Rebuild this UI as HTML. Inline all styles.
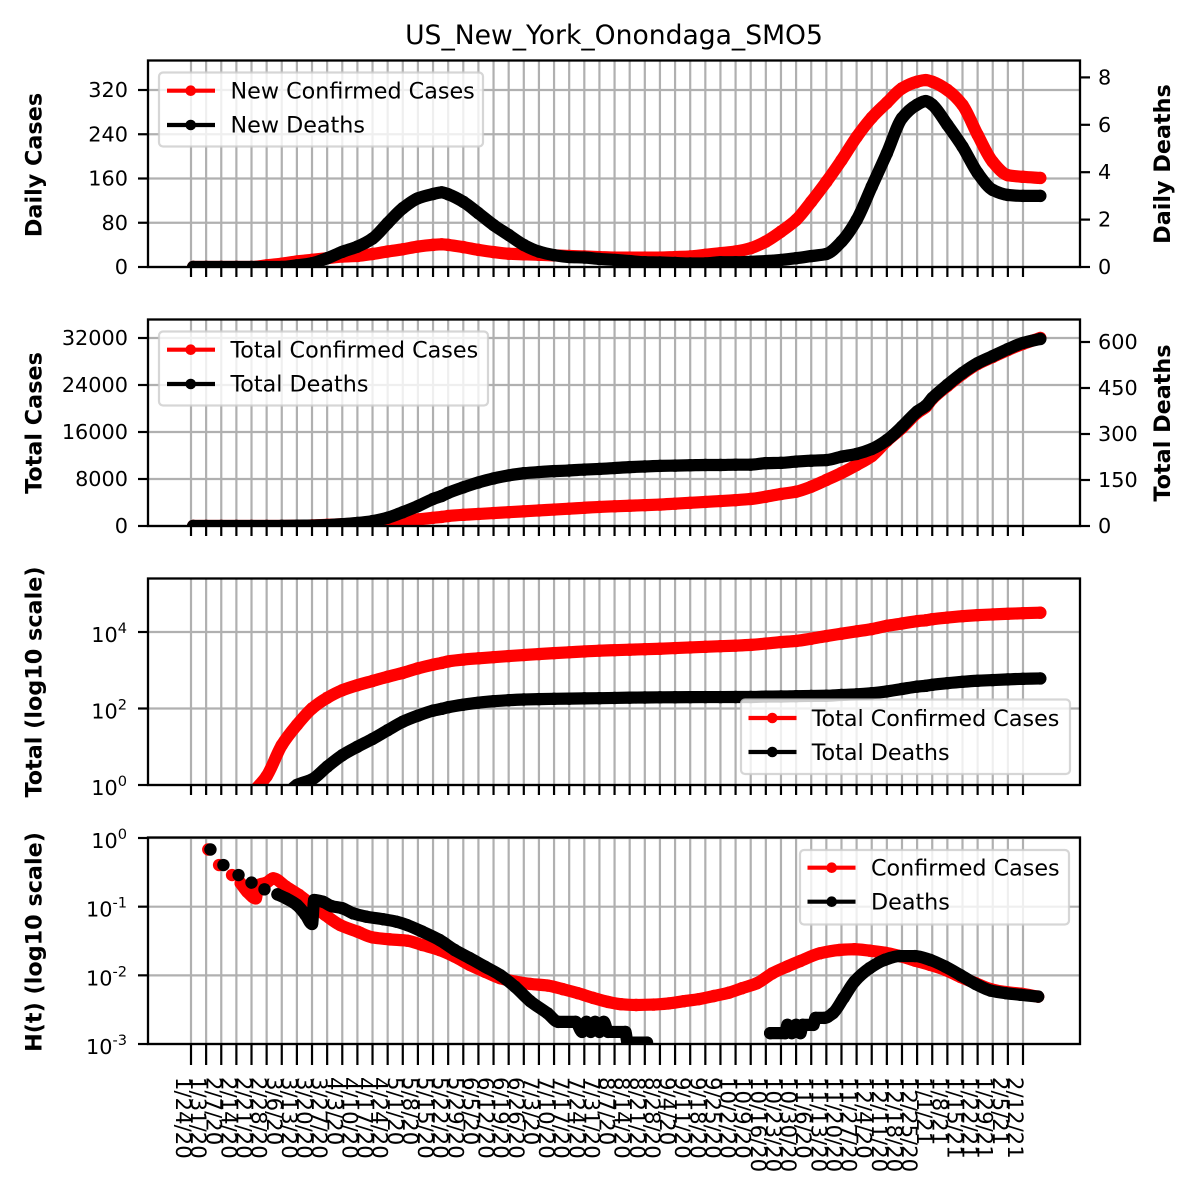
<!DOCTYPE html>
<html>
<head>
<meta charset="utf-8">
<title>US_New_York_Onondaga_SMO5</title>
<style>
html,body{margin:0;padding:0;background:#fff;}
svg{display:block;}
text{font-family:"DejaVu Sans","Liberation Sans",sans-serif;fill:#000;}
</style>
</head>
<body>
<svg id="chart" width="1200" height="1200" viewBox="0 0 1200 1200" xmlns="http://www.w3.org/2000/svg">
<defs>
<clipPath id="clip1"><rect x="148" y="60.5" width="932" height="206.5"/></clipPath>
<clipPath id="clip2"><rect x="148" y="319.5" width="932" height="206.5"/></clipPath>
<clipPath id="clip3"><rect x="148" y="578.5" width="932" height="206.5"/></clipPath>
<clipPath id="clip4"><rect x="148" y="837.5" width="932" height="206.5"/></clipPath>
</defs>
<rect x="0" y="0" width="1200" height="1200" fill="#fff"/>
<text x="614" y="44" text-anchor="middle" font-size="26.6">US_New_York_Onondaga_SMO5</text>
<g id="grid"></g>
<g id="marks"></g>
<g id="ticks"></g>
<g fill="none" stroke="#000" stroke-width="2.3">
<rect x="148" y="60.5" width="932" height="206.5"/>
<rect x="148" y="319.5" width="932" height="206.5"/>
<rect x="148" y="578.5" width="932" height="206.5"/>
<rect x="148" y="837.5" width="932" height="206.5"/>
</g>
<g font-size="22.3" font-weight="bold" text-anchor="middle">
<text transform="translate(41.7,165) rotate(-90)">Daily Cases</text>
<text transform="translate(41.7,423) rotate(-90)">Total Cases</text>
<text transform="translate(41.7,682) rotate(-90)">Total (log10 scale)</text>
<text transform="translate(41.7,942) rotate(-90)">H(t) (log10 scale)</text>
<text transform="translate(1170,164) rotate(-90)">Daily Deaths</text>
<text transform="translate(1170,423) rotate(-90)">Total Deaths</text>
</g>
<g font-size="22.25">
<rect x="159" y="72.5" width="324" height="74" rx="4" fill="#fff" fill-opacity="0.8" stroke="#ccc" stroke-opacity="0.8" stroke-width="2.2"/>
<line x1="167" y1="90.7" x2="215" y2="90.7" stroke="#f00" stroke-width="4.2"/>
<circle cx="190.7" cy="90.7" r="5.3" fill="#f00"/>
<text x="230.5" y="98.5">New Confirmed Cases</text>
<line x1="167" y1="125" x2="215" y2="125" stroke="#000" stroke-width="4.2"/>
<circle cx="190.7" cy="125" r="5.3" fill="#000"/>
<text x="230.5" y="132.5">New Deaths</text>
</g>
<g font-size="22.25">
<rect x="159" y="331.5" width="329" height="74" rx="4" fill="#fff" fill-opacity="0.8" stroke="#ccc" stroke-opacity="0.8" stroke-width="2.2"/>
<line x1="167" y1="349.7" x2="215" y2="349.7" stroke="#f00" stroke-width="4.2"/>
<circle cx="190.7" cy="349.7" r="5.3" fill="#f00"/>
<text x="230.5" y="357.5">Total Confirmed Cases</text>
<line x1="167" y1="384" x2="215" y2="384" stroke="#000" stroke-width="4.2"/>
<circle cx="190.7" cy="384" r="5.3" fill="#000"/>
<text x="230.5" y="391.5">Total Deaths</text>
</g>
<g font-size="22.25">
<rect x="741" y="699.5" width="329" height="74.5" rx="4" fill="#fff" fill-opacity="0.8" stroke="#ccc" stroke-opacity="0.8" stroke-width="2.2"/>
<line x1="748.5" y1="718" x2="796.5" y2="718" stroke="#f00" stroke-width="4.2"/>
<circle cx="772.3" cy="718" r="5.3" fill="#f00"/>
<text x="811.7" y="726">Total Confirmed Cases</text>
<line x1="748.5" y1="752" x2="796.5" y2="752" stroke="#000" stroke-width="4.2"/>
<circle cx="772.3" cy="752" r="5.3" fill="#000"/>
<text x="811.7" y="760">Total Deaths</text>
</g>
<g font-size="22.25">
<rect x="800" y="850" width="269" height="74.5" rx="4" fill="#fff" fill-opacity="0.8" stroke="#ccc" stroke-opacity="0.8" stroke-width="2.2"/>
<line x1="807.5" y1="867.7" x2="855.5" y2="867.7" stroke="#f00" stroke-width="4.2"/>
<circle cx="831.7" cy="867.7" r="5.3" fill="#f00"/>
<text x="871" y="875.5">Confirmed Cases</text>
<line x1="807.5" y1="901.7" x2="855.5" y2="901.7" stroke="#000" stroke-width="4.2"/>
<circle cx="831.7" cy="901.7" r="5.3" fill="#000"/>
<text x="871" y="909.5">Deaths</text>
</g>
</svg>
<script>
// Weekly tick labels (days since 1/24/20 = index * 7)
var xTickLabels = ["1/24/20","1/31/20","2/7/20","2/14/20","2/21/20","2/28/20","3/6/20","3/13/20","3/20/20","3/27/20","4/3/20","4/10/20","4/17/20","4/24/20","5/1/20","5/8/20","5/15/20","5/22/20","5/29/20","6/5/20","6/12/20","6/19/20","6/26/20","7/3/20","7/10/20","7/17/20","7/24/20","7/31/20","8/7/20","8/14/20","8/21/20","8/28/20","9/4/20","9/11/20","9/18/20","9/25/20","10/2/20","10/9/20","10/16/20","10/23/20","10/30/20","11/6/20","11/13/20","11/20/20","11/27/20","12/4/20","12/11/20","12/18/20","12/25/20","1/1/21","1/8/21","1/15/21","1/22/21","1/29/21","2/5/21","2/12/21"];
var tickDayStep = 7;

// Sampled days since 1/24/20 for the daily and total series
var sampleDays = [1,7,14,21,28,35,42,49,56,63,70,77,84,91,98,105,112,116,119,126,133,140,147,154,161,168,175,182,189,196,203,210,217,224,231,238,245,252,259,266,273,280,287,294,301,308,315,322,329,336,340,343,350,357,364,371,378,385,393];

var newCases = [0,0,0,0,0,3,6,10,13,16,19,20,23.5,28,32,37,40,41,40,36,31,27,24,23,22,21,20,19,18,17,17,17,17,18,19,22,25,28,34,46,64,85,118,154,193,235,270,297,323,335,338,335,320,293,239,190,166,163,161];
var newDeaths = [0,0,0,0,0,0,0,0.07,0.16,0.37,0.64,0.86,1.2,1.85,2.48,2.9,3.08,3.15,3.07,2.75,2.27,1.77,1.35,0.93,0.65,0.5,0.42,0.4,0.34,0.3,0.25,0.2,0.19,0.17,0.15,0.15,0.2,0.2,0.22,0.25,0.3,0.37,0.46,0.55,1.07,1.98,3.39,4.8,6.28,6.85,7.0,6.85,6.0,5.08,3.97,3.25,3.04,3.0,3.0];
var totalCases = [0,0,0,0,0.6,1.7,11,37,100,190,300,407,525,676,851,1120,1400,1550,1700,1900,2050,2200,2350,2500,2650,2800,2950,3100,3250,3350,3450,3550,3650,3800,3950,4100,4250,4400,4600,4990,5450,5840,6690,7830,9020,10380,11900,14470,16680,19230,20250,21620,23830,25870,27570,28770,29960,31000,32000];
var totalDeaths = [0,0,0,0,0,0,0.4,1,1.4,3,6,10,16,27,45,65,88,98,108,126,142,155,165,172,176,179,181,184,186,189,192,194,196,197,198,199,199,200,200,205,206,210,213,215,226,235,251,280,324,373,392,417,460,499,531,554,577,597,610];

// H(t) series: null marks a break in the line
var hCaseDays = [8,9,13,14,19,20,23,26,30,31,35,38,44,50,56,62,69,77,84,92,100,107,115,122,129,136,143,150,157,165,172,179,186,193,199,206,214,221,228,235,242,249,255,262,269,276,282,291,300,307,314,321,328,335,342,349,356,363,370,377,384,392];
var hCaseValues = [0.68,null,0.404,null,0.289,null,0.219,0.165,0.132,0.206,0.224,0.259,0.195,0.148,0.106,0.076,0.054,0.0433,0.0357,0.0334,0.032,0.0277,0.0234,0.0187,0.0142,0.0113,0.0091,0.0081,0.0075,0.0071,0.0063,0.0055,0.0047,0.0041,0.0038,0.0037,0.00375,0.0039,0.0042,0.0045,0.005,0.0056,0.0065,0.0077,0.0107,0.0135,0.0162,0.0209,0.0234,0.024,0.0229,0.0214,0.0191,0.0164,0.0142,0.012,0.0095,0.0077,0.0063,0.0057,0.0054,0.0049];
var hDeathDays = [9,10,15,16,22,23,28,29,34,35,40,44,49,53,56,57,61,65,70,75,81,89,95,100,107,115,122,129,136,143,150,157,165,170,178,181,183,185,187,189,191,193,201,202,211,212,268,275,276,278,280,282,283,288,289,293,297,302,307,314,321,328,335,342,349,356,363,370,377,384,392];
var hDeathValues = [0.68,null,0.404,null,0.289,null,0.224,null,0.179,null,0.151,0.132,0.106,0.076,0.056,0.125,0.118,0.102,0.095,0.08,0.0716,0.0655,0.0605,0.054,0.0433,0.0327,0.0234,0.0178,0.0134,0.0101,0.0068,0.0042,0.0028,0.0021,0.0021,0.0015,0.0021,0.0015,0.0021,0.0015,0.0021,0.0015,0.0015,0.00105,0.00105,null,0.00144,0.00144,0.0019,0.00144,0.0019,0.00144,0.0019,0.0019,0.0024,0.0024,0.0028,0.0047,0.0081,0.0127,0.0168,0.0191,0.0191,0.0168,0.0134,0.0101,0.0075,0.006,0.0055,0.0052,0.0049];

// Y tick values
var dailyCaseTicks = [0,80,160,240,320];
var dailyDeathTicks = [0,2,4,6,8];
var totalCaseTicks = [0,8000,16000,24000,32000];
var totalDeathTicks = [0,150,300,450,600];
var logTotalExponents = [0,2,4];
var logHExponents = [0,-1,-2,-3];

var NS = 'http://www.w3.org/2000/svg';
function xDay(d){ return 191 + d * 832 / 385; }
function yDailyCases(v){ return 267 - v * 177 / 320; }
function yDailyDeaths(v){ return 267 - v * 189.6 / 8; }
function yTotalCases(v){ return 526 - v * 188 / 32000; }
function yTotalDeaths(v){ return 526 - v * 184 / 600; }
function yLogTotal(v){ return 785 - 38.25 * Math.log10(v); }
function yLogH(v){ return 838 - 68.67 * Math.log10(v); }

function mk(tag, attrs, parent){
  var el = document.createElementNS(NS, tag);
  for (var k in attrs) { el.setAttribute(k, attrs[k]); }
  parent.appendChild(el);
  return el;
}

var gridG = document.getElementById('grid');
var ticksG = document.getElementById('ticks');
var marksG = document.getElementById('marks');

var panels = [[60.5,267,10],[319.5,526,10],[578.5,785,10],[837.5,1044,21]];

function hGrid(y){
  var el = mk('line', {x1:148, x2:1080, y1:y, y2:y, stroke:'#b0b0b0', 'stroke-width':2.2}, gridG);
  
  
}
function tickMark(x1, y1, x2, y2){
  var el = mk('line', {x1:x1, y1:y1, x2:x2, y2:y2, stroke:'#000', 'stroke-width':2.2}, ticksG);
  
  
}
function yLabel(x, y, anchor, txt){
  var el = mk('text', {x:x, y:y + 7, 'text-anchor':anchor, 'font-size':20.8}, ticksG);
  
  
  el.textContent = txt;
}
function logLabel(y, exp){
  var el = mk('text', {x:127, y:y + 10, 'text-anchor':'end', 'font-size':20.8}, ticksG);
  
  
  el.appendChild(document.createTextNode('10'));
  var sup = mk('tspan', {dy:-9, 'font-size':14.6}, el);
  sup.textContent = String(exp);
}

// vertical grid + x ticks + x labels
panels.forEach(function(p){
  xTickLabels.forEach(function(lab, i){
    var x = xDay(i * tickDayStep);
    var g = mk('line', {x1:x, x2:x, y1:p[0], y2:p[1], stroke:'#b0b0b0', 'stroke-width':2.2}, gridG);
    
    
    tickMark(x, p[1], x, p[1] + p[2]);
  });
});
xTickLabels.forEach(function(lab, i){
  var x = xDay(i * tickDayStep);
  var t = mk('text', {transform:'translate(' + (x - 15) + ',1077) rotate(90)', 'font-size':21.2}, ticksG);
  
  
  t.textContent = lab;
});

// y ticks
dailyCaseTicks.forEach(function(v){
  var y = yDailyCases(v);
  hGrid(y); tickMark(138, y, 148, y); yLabel(128, y, 'end', String(v));
});
dailyDeathTicks.forEach(function(v){
  var y = yDailyDeaths(v);
  tickMark(1080, y, 1090, y); yLabel(1098, y, 'start', String(v));
});
totalCaseTicks.forEach(function(v){
  var y = yTotalCases(v);
  hGrid(y); tickMark(138, y, 148, y); yLabel(128, y, 'end', String(v));
});
totalDeathTicks.forEach(function(v){
  var y = yTotalDeaths(v);
  tickMark(1080, y, 1090, y); yLabel(1098, y, 'start', String(v));
});
logTotalExponents.forEach(function(e){
  var y = yLogTotal(Math.pow(10, e));
  hGrid(y); tickMark(138, y, 148, y); logLabel(y, e);
});
logHExponents.forEach(function(e){
  var y = yLogH(Math.pow(10, e));
  hGrid(y); tickMark(138, y, 148, y); logLabel(y, e);
});

// Monotone cubic path through the points of one unbroken segment
function monotonePath(pts){
  var n = pts.length, s = [], m = [], i;
  for (i = 0; i < n - 1; i++) { s.push((pts[i+1][1] - pts[i][1]) / (pts[i+1][0] - pts[i][0])); }
  m.push(s[0]);
  for (i = 1; i < n - 1; i++) {
    m.push(s[i-1] * s[i] <= 0 ? 0 : 2 * s[i-1] * s[i] / (s[i-1] + s[i]));
  }
  m.push(s[n-2]);
  var d = 'M' + pts[0][0].toFixed(2) + ' ' + pts[0][1].toFixed(2);
  for (i = 0; i < n - 1; i++) {
    var h = (pts[i+1][0] - pts[i][0]) / 3;
    d += 'C' + (pts[i][0] + h).toFixed(2) + ' ' + (pts[i][1] + m[i] * h).toFixed(2) + ' ' +
         (pts[i+1][0] - h).toFixed(2) + ' ' + (pts[i+1][1] - m[i+1] * h).toFixed(2) + ' ' +
         pts[i+1][0].toFixed(2) + ' ' + pts[i+1][1].toFixed(2);
  }
  return d;
}

// series
function drawSeries(name, days, values, yFn, color, clipId, isLog){
  var g = mk('g', {'clip-path':'url(#' + clipId + ')'}, marksG);
  
  
  var seg = [];
  function flush(){
    if (seg.length > 1) {
      var line = mk('path', {d:monotonePath(seg), fill:'none', stroke:color, 'stroke-width':12.2, 'stroke-linejoin':'round', 'stroke-linecap':'round'}, g);
      
      
    }
    seg = [];
  }
  for (var i = 0; i < days.length; i++) {
    var v = values[i];
    if (v === null || (isLog && v <= 0)) { flush(); continue; }
    var px = xDay(days[i]), py = yFn(v);
    seg.push([px, py]);
    var c = mk('circle', {cx:px.toFixed(2), cy:py.toFixed(2), r:6.2, fill:color}, g);
    
    
  }
  flush();
}
drawSeries('new-confirmed-cases-series', sampleDays, newCases, yDailyCases, '#f00', 'clip1', false);
drawSeries('new-deaths-series', sampleDays, newDeaths, yDailyDeaths, '#000', 'clip1', false);
drawSeries('total-confirmed-cases-series', sampleDays, totalCases, yTotalCases, '#f00', 'clip2', false);
drawSeries('total-deaths-series', sampleDays, totalDeaths, yTotalDeaths, '#000', 'clip2', false);
drawSeries('log-total-cases-series', sampleDays, totalCases, yLogTotal, '#f00', 'clip3', true);
drawSeries('log-total-deaths-series', sampleDays, totalDeaths, yLogTotal, '#000', 'clip3', true);
drawSeries('ht-confirmed-cases-series', hCaseDays, hCaseValues, yLogH, '#f00', 'clip4', true);
drawSeries('ht-deaths-series', hDeathDays, hDeathValues, yLogH, '#000', 'clip4', true);
</script>
</body>
</html>
